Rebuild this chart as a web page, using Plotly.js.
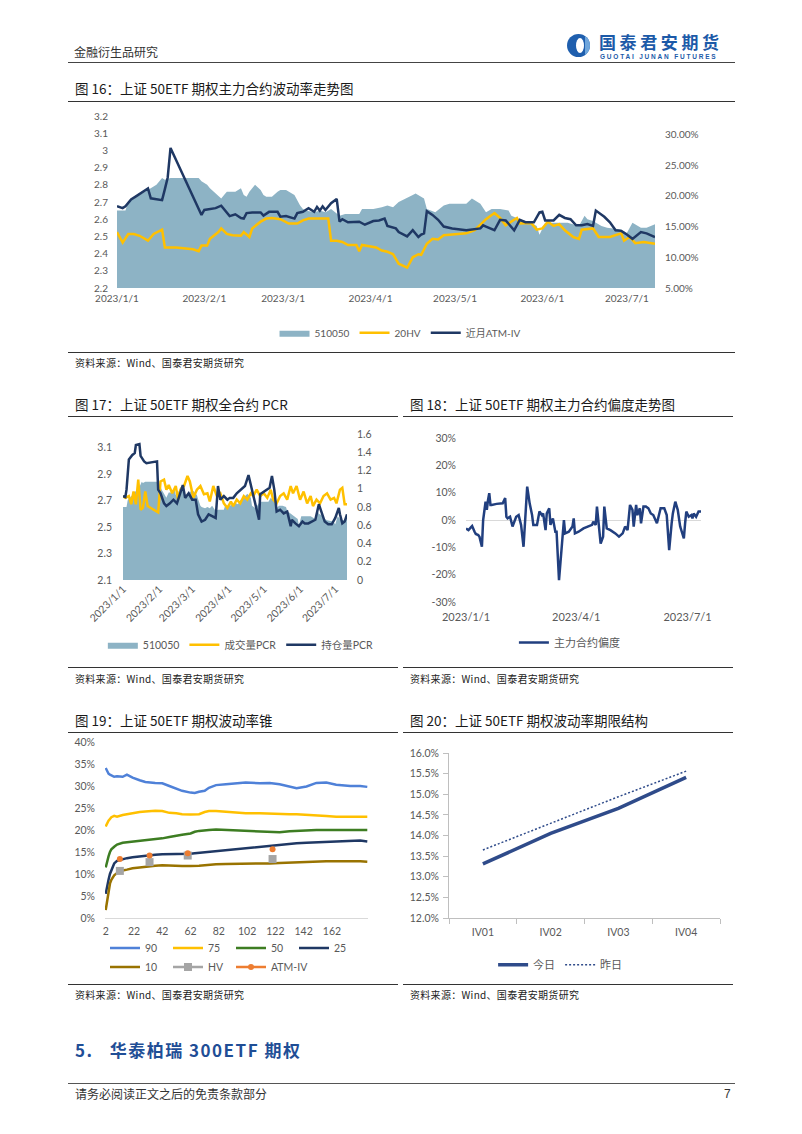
<!DOCTYPE html>
<html><head><meta charset="utf-8">
<script src="https://cdn.plot.ly/plotly-3.0.1.min.js"></script>
<style>
body{margin:0;background:#fff;}
#page{position:relative;width:802px;height:1134px;overflow:hidden;font-family:'Noto Sans CJK SC',sans-serif;color:#1a1a1a;background:#fff;}
.t{position:absolute;white-space:nowrap;line-height:1;}
.hl{position:absolute;height:0;border-top:1px solid #333;}
.c{position:absolute;}
.ttl{font-size:13.5px;letter-spacing:0;}
.src{font-size:10px;letter-spacing:0.3px;color:#222;}
</style></head>
<body><div id="page">
<div class="t" style="left:74px;top:46px;font-size:12px;color:#333;">金融衍生品研究</div>
<div style="position:absolute;left:567px;top:34px;width:23px;height:23px;border-radius:50%;background:#1f5fae;overflow:hidden;">
  <div style="position:absolute;left:9px;top:4px;width:8px;height:15px;border-radius:50%;background:#fff;"></div>
  <div style="position:absolute;left:18px;top:0;width:5px;height:23px;background:#6fa6dc;"></div>
</div>
<div class="t" style="left:599px;top:33px;height:17px;font-size:17px;line-height:17px;font-weight:bold;color:#1c5aa8;letter-spacing:3.6px;">国泰君安期货</div>
<div class="t" style="left:600px;top:54px;height:6px;font-size:6.5px;line-height:6px;font-weight:bold;color:#1c5aa8;letter-spacing:1.8px;font-family:'Liberation Sans',sans-serif;">GUOTAI JUNAN FUTURES</div>
<div class="hl" style="left:68px;width:667px;top:62px;border-top-color:#444;"></div>

<div class="t ttl" style="left:75px;top:82px;">图 16：上证 50ETF 期权主力合约波动率走势图</div>
<div class="hl" style="left:68px;width:667px;top:101px;"></div>
<div class="c" id="c16" style="left:68px;top:105px;width:667px;height:245px;"></div>
<div class="hl" style="left:68px;width:667px;top:352px;"></div>
<div class="t src" style="left:75px;top:358px;">资料来源：Wind、国泰君安期货研究</div>

<div class="t ttl" style="left:75px;top:398px;">图 17：上证 50ETF 期权全合约 PCR</div>
<div class="hl" style="left:68px;width:330px;top:416px;"></div>
<div class="t ttl" style="left:410px;top:398px;">图 18：上证 50ETF 期权主力合约偏度走势图</div>
<div class="hl" style="left:403px;width:330px;top:416px;"></div>
<div class="c" id="c17" style="left:68px;top:420px;width:330px;height:245px;"></div>
<div class="c" id="c18" style="left:403px;top:420px;width:330px;height:245px;"></div>
<div class="hl" style="left:68px;width:330px;top:667px;"></div>
<div class="t src" style="left:75px;top:674px;">资料来源：Wind、国泰君安期货研究</div>
<div class="hl" style="left:403px;width:330px;top:667px;"></div>
<div class="t src" style="left:410px;top:674px;">资料来源：Wind、国泰君安期货研究</div>

<div class="t ttl" style="left:75px;top:714px;">图 19：上证 50ETF 期权波动率锥</div>
<div class="hl" style="left:68px;width:330px;top:732px;"></div>
<div class="t ttl" style="left:410px;top:714px;">图 20：上证 50ETF 期权波动率期限结构</div>
<div class="hl" style="left:403px;width:330px;top:732px;"></div>
<div class="c" id="c19" style="left:68px;top:735px;width:330px;height:248px;"></div>
<div class="c" id="c20" style="left:403px;top:735px;width:330px;height:248px;"></div>
<div class="hl" style="left:68px;width:330px;top:984px;"></div>
<div class="t src" style="left:75px;top:990px;">资料来源：Wind、国泰君安期货研究</div>
<div class="hl" style="left:403px;width:330px;top:984px;"></div>
<div class="t src" style="left:410px;top:990px;">资料来源：Wind、国泰君安期货研究</div>

<div class="t" style="left:75px;top:1041px;font-size:17px;font-weight:bold;color:#1f4e96;letter-spacing:1.5px;">5.&nbsp;&nbsp; 华泰柏瑞 300ETF 期权</div>
<div class="hl" style="left:68px;width:667px;top:1083px;border-top-color:#555;"></div>
<div class="t" style="left:75px;top:1088px;font-size:12px;color:#333;">请务必阅读正文之后的免责条款部分</div>
<div class="t" style="left:724px;top:1088px;font-size:12px;color:#333;font-family:'Liberation Sans',sans-serif;">7</div>
</div>
<script>
// ---------- data ----------
const monthTickDates = ['2023-01-01','2023-02-01','2023-03-01','2023-04-01','2023-05-01','2023-06-01','2023-07-01'];
const monthTickText = ['2023/1/1','2023/2/1','2023/3/1','2023/4/1','2023/5/1','2023/6/1','2023/7/1'];
const quarterTickDates = ['2023-01-01','2023-04-01','2023-07-01'];
const quarterTickText = ['2023/1/1','2023/4/1','2023/7/1'];

// 510050 price (left axis)
const etfDates = ['2023-01-01','2023-01-04','2023-01-05','2023-01-08','2023-01-12','2023-01-15','2023-01-17','2023-01-18','2023-01-20','2023-01-30','2023-01-31','2023-02-02','2023-02-03','2023-02-05','2023-02-06','2023-02-07','2023-02-08','2023-02-09','2023-02-12','2023-02-14','2023-02-15','2023-02-16','2023-02-17','2023-02-18','2023-02-19','2023-02-21','2023-02-22','2023-02-23','2023-02-25','2023-02-27','2023-02-28','2023-03-02','2023-03-03','2023-03-05','2023-03-06','2023-03-07','2023-03-08','2023-03-09','2023-03-12','2023-03-14','2023-03-16','2023-03-18','2023-03-21','2023-03-23','2023-03-26','2023-03-28','2023-03-29','2023-04-02','2023-04-05','2023-04-07','2023-04-09','2023-04-11','2023-04-16','2023-04-17','2023-04-20','2023-04-21','2023-04-24','2023-04-27','2023-04-29','2023-05-05','2023-05-07','2023-05-10','2023-05-12','2023-05-14','2023-05-17','2023-05-20','2023-05-21','2023-05-24','2023-05-28','2023-05-30','2023-05-31','2023-06-02','2023-06-10','2023-06-14','2023-06-16','2023-06-17','2023-06-19','2023-06-22','2023-06-24','2023-06-29','2023-07-01','2023-07-03','2023-07-06','2023-07-08','2023-07-11'];
const etfVals = [2.65,2.65,2.70,2.73,2.77,2.80,2.84,2.83,2.84,2.84,2.82,2.80,2.78,2.75,2.74,2.72,2.74,2.76,2.76,2.78,2.74,2.73,2.76,2.78,2.80,2.77,2.74,2.73,2.73,2.76,2.77,2.77,2.76,2.74,2.71,2.68,2.66,2.65,2.64,2.65,2.64,2.66,2.62,2.63,2.63,2.63,2.66,2.66,2.67,2.68,2.67,2.70,2.74,2.75,2.72,2.66,2.64,2.68,2.69,2.69,2.72,2.69,2.64,2.66,2.66,2.65,2.62,2.60,2.58,2.56,2.51,2.58,2.58,2.56,2.62,2.60,2.59,2.56,2.55,2.54,2.52,2.58,2.55,2.55,2.57];

// 20HV (%)
const hvDates = ['2023-01-01','2023-01-03','2023-01-05','2023-01-07','2023-01-09','2023-01-11','2023-01-12','2023-01-14','2023-01-17','2023-01-18','2023-01-22','2023-01-28','2023-01-30','2023-01-31','2023-02-02','2023-02-03','2023-02-06','2023-02-07','2023-02-09','2023-02-11','2023-02-14','2023-02-15','2023-02-17','2023-02-18','2023-02-21','2023-02-23','2023-02-25','2023-02-28','2023-03-02','2023-03-03','2023-03-06','2023-03-08','2023-03-10','2023-03-13','2023-03-16','2023-03-17','2023-03-18','2023-03-20','2023-03-22','2023-03-24','2023-03-27','2023-03-28','2023-03-29','2023-04-01','2023-04-03','2023-04-05','2023-04-07','2023-04-09','2023-04-11','2023-04-14','2023-04-16','2023-04-18','2023-04-19','2023-04-21','2023-04-23','2023-04-25','2023-04-27','2023-04-30','2023-05-05','2023-05-08','2023-05-12','2023-05-15','2023-05-17','2023-05-19','2023-05-21','2023-05-23','2023-05-24','2023-05-27','2023-05-28','2023-05-30','2023-06-01','2023-06-03','2023-06-05','2023-06-07','2023-06-09','2023-06-12','2023-06-14','2023-06-15','2023-06-19','2023-06-21','2023-06-25','2023-06-29','2023-06-30','2023-07-02','2023-07-04','2023-07-07','2023-07-11'];
const hvVals = [14.1,12.4,13.8,13.8,13.5,13.0,12.7,13.8,14.5,11.6,11.6,11.3,11.0,11.9,11.9,13.0,14.1,14.7,13.8,13.6,13.5,14.1,13.3,14.7,15.8,16.3,16.4,16.2,15.8,15.5,15.5,16.0,16.3,16.3,16.2,16.3,12.7,12.7,12.5,12.0,12.0,11.0,12.0,11.7,11.6,11.1,10.9,10.5,8.95,8.3,10.0,10.5,10.4,12.2,13.0,12.9,13.6,13.7,13.9,14.4,16.2,17.2,16.4,15.2,15.8,16.4,15.5,15.6,15.6,14.5,14.7,15.8,15.1,15.4,14.4,13.3,13.0,14.5,14.7,13.3,13.3,13.9,12.7,13.3,12.3,12.5,12.2];

// near-month ATM-IV (%)
const ivDates = ['2023-01-01','2023-01-03','2023-01-04','2023-01-06','2023-01-08','2023-01-11','2023-01-12','2023-01-13','2023-01-15','2023-01-17','2023-01-18','2023-01-19','2023-01-20','2023-01-31','2023-02-01','2023-02-03','2023-02-05','2023-02-07','2023-02-10','2023-02-12','2023-02-14','2023-02-15','2023-02-16','2023-02-18','2023-02-21','2023-02-22','2023-02-24','2023-02-27','2023-02-28','2023-03-02','2023-03-05','2023-03-06','2023-03-08','2023-03-10','2023-03-12','2023-03-13','2023-03-14','2023-03-15','2023-03-16','2023-03-18','2023-03-20','2023-03-21','2023-03-22','2023-03-24','2023-03-26','2023-03-28','2023-03-30','2023-04-02','2023-04-04','2023-04-06','2023-04-07','2023-04-10','2023-04-11','2023-04-14','2023-04-16','2023-04-18','2023-04-19','2023-04-20','2023-04-21','2023-04-23','2023-04-25','2023-04-27','2023-04-30','2023-05-05','2023-05-10','2023-05-11','2023-05-12','2023-05-15','2023-05-17','2023-05-19','2023-05-22','2023-05-24','2023-05-26','2023-05-29','2023-05-31','2023-06-01','2023-06-02','2023-06-05','2023-06-07','2023-06-09','2023-06-11','2023-06-13','2023-06-15','2023-06-17','2023-06-19','2023-06-20','2023-06-23','2023-06-25','2023-06-27','2023-06-29','2023-07-01','2023-07-03','2023-07-06','2023-07-08','2023-07-11'];
const ivVals = [18.3,18.0,18.3,19.4,20.0,20.8,21.2,19.6,19.4,19.3,21.1,23.0,27.8,16.9,17.7,17.8,18.0,18.4,16.7,17.0,16.4,16.3,17.2,17.3,17.3,16.8,17.4,17.4,16.6,16.7,16.3,17.2,17.4,18.0,17.4,18.2,17.6,18.3,17.7,18.8,19.5,15.8,16.2,15.7,15.8,15.8,15.3,15.9,16.0,16.3,15.1,14.7,14.1,13.4,14.4,13.3,13.7,13.9,17.5,16.9,16.1,15.0,14.7,14.4,14.7,15.2,15.0,14.4,16.1,16.0,14.4,16.1,15.7,15.7,17.3,17.4,16.0,16.0,16.9,16.4,16.2,15.2,15.2,15.4,15.1,17.6,16.6,15.7,14.4,14.3,13.7,13.0,14.1,13.9,13.3];

// Fig 17: volume PCR & open-interest PCR
const pcrVolDates = ['2023-01-01','2023-01-03','2023-01-06','2023-01-08','2023-01-10','2023-01-12','2023-01-14','2023-01-16','2023-01-18','2023-01-20','2023-01-22','2023-01-31','2023-02-02','2023-02-05','2023-02-07','2023-02-09','2023-02-12','2023-02-15','2023-02-17','2023-02-19','2023-02-22','2023-02-25','2023-02-27','2023-03-02','2023-03-05','2023-03-08','2023-03-11','2023-03-14','2023-03-16','2023-03-19','2023-03-22','2023-03-25','2023-03-28','2023-03-31','2023-04-03','2023-04-05','2023-04-08','2023-04-11','2023-04-14','2023-04-17','2023-04-20','2023-04-22','2023-04-25','2023-04-28','2023-05-01','2023-05-04','2023-05-07','2023-05-09','2023-05-12','2023-05-15','2023-05-18','2023-05-21','2023-05-24','2023-05-26','2023-05-29','2023-06-01','2023-06-04','2023-06-07','2023-06-10','2023-06-12','2023-06-15','2023-06-18','2023-06-21','2023-06-24','2023-06-27','2023-06-30','2023-07-02','2023-07-05','2023-07-07','2023-07-09','2023-07-11'];
const pcrVolVals = [0.92,0.90,0.92,0.83,0.97,0.83,1.10,0.77,0.79,0.97,0.81,0.74,1.08,1.10,0.99,1.04,0.95,1.03,0.88,0.99,1.03,1.14,1.08,0.90,0.99,1.03,0.94,0.95,0.86,1.03,0.92,0.95,0.84,0.79,0.86,0.81,0.88,0.84,0.92,0.88,0.95,0.92,0.99,0.92,0.95,0.90,0.99,0.88,0.84,0.92,0.95,0.88,1.03,0.95,1.03,0.88,0.97,0.84,0.92,0.81,0.88,0.84,0.92,0.95,0.88,0.90,0.84,0.99,1.01,0.83,0.83];
const pcrOiDates = ['2023-01-01','2023-01-03','2023-01-04','2023-01-06','2023-01-09','2023-01-11','2023-01-12','2023-01-15','2023-01-16','2023-01-19','2023-01-21','2023-01-30','2023-01-31','2023-02-02','2023-02-05','2023-02-07','2023-02-10','2023-02-13','2023-02-16','2023-02-19','2023-02-21','2023-02-23','2023-02-26','2023-03-01','2023-03-04','2023-03-06','2023-03-09','2023-03-12','2023-03-15','2023-03-18','2023-03-21','2023-03-23','2023-03-25','2023-03-28','2023-03-31','2023-04-02','2023-04-05','2023-04-08','2023-04-12','2023-04-15','2023-04-18','2023-04-21','2023-04-24','2023-04-27','2023-04-28','2023-05-01','2023-05-04','2023-05-06','2023-05-08','2023-05-10','2023-05-12','2023-05-15','2023-05-18','2023-05-21','2023-05-24','2023-05-25','2023-05-28','2023-05-31','2023-06-03','2023-06-05','2023-06-08','2023-06-11','2023-06-14','2023-06-17','2023-06-20','2023-06-22','2023-06-25','2023-06-28','2023-07-01','2023-07-04','2023-07-05','2023-07-07','2023-07-09','2023-07-11'];
const pcrOiVals = [0.92,0.91,0.99,1.32,1.37,1.39,1.48,1.49,1.36,1.30,1.28,1.30,0.99,0.95,0.84,0.81,0.84,0.88,0.84,0.95,1.04,0.90,0.95,0.88,0.88,0.72,0.64,0.66,0.72,0.70,0.68,1.03,0.88,0.92,0.88,0.90,0.90,0.95,0.99,1.03,1.15,0.99,0.84,0.66,0.94,0.97,0.99,1.01,1.14,0.99,0.75,0.77,0.73,0.75,0.59,0.66,0.62,0.59,0.64,0.62,0.62,0.64,0.66,0.83,0.72,0.64,0.61,0.61,0.68,0.79,0.72,0.62,0.64,0.72];

// Fig 18: main-contract skew (%)
const skewDates = ['2023-01-01','2023-01-03','2023-01-05','2023-01-06','2023-01-08','2023-01-09','2023-01-11','2023-01-12','2023-01-14','2023-01-15','2023-01-17','2023-01-18','2023-01-19','2023-01-20','2023-01-21','2023-01-22','2023-01-26','2023-01-31','2023-02-02','2023-02-03','2023-02-04','2023-02-06','2023-02-08','2023-02-10','2023-02-11','2023-02-13','2023-02-15','2023-02-17','2023-02-19','2023-02-20','2023-02-22','2023-02-24','2023-02-25','2023-02-28','2023-03-02','2023-03-04','2023-03-05','2023-03-07','2023-03-08','2023-03-10','2023-03-11','2023-03-13','2023-03-15','2023-03-16','2023-03-18','2023-03-20','2023-03-22','2023-03-23','2023-03-26','2023-03-29','2023-03-30','2023-03-31','2023-04-03','2023-04-07','2023-04-11','2023-04-14','2023-04-15','2023-04-17','2023-04-18','2023-04-20','2023-04-21','2023-04-23','2023-04-24','2023-04-26','2023-04-29','2023-05-03','2023-05-06','2023-05-09','2023-05-11','2023-05-13','2023-05-14','2023-05-15','2023-05-17','2023-05-18','2023-05-20','2023-05-21','2023-05-23','2023-05-24','2023-05-26','2023-05-28','2023-05-30','2023-06-01','2023-06-03','2023-06-05','2023-06-06','2023-06-09','2023-06-12','2023-06-14','2023-06-16','2023-06-18','2023-06-19','2023-06-21','2023-06-23','2023-06-25','2023-06-28','2023-06-29','2023-06-30','2023-07-02','2023-07-04','2023-07-05','2023-07-06','2023-07-08','2023-07-09','2023-07-10','2023-07-12'];
const skewVals = [-3.1,-3.7,-2.7,-2.2,-4.3,-5.1,-5.5,-6.1,-9.8,0,6.7,3.7,7.3,9.8,5.5,5.5,5.9,6.1,8.0,1.2,0.6,1.2,-2.4,0.6,1.2,1.8,-1.8,-9.8,3.7,12.2,6.1,1.8,-1.8,-1.8,3.1,1.8,2.4,-3.7,2.4,4.3,-1.8,0.6,-4.3,-4.3,-22.0,-9.8,0,-4.9,-4.3,-2.4,0.6,-4.9,-4.3,-3.1,-2.4,-1.8,-0.6,-1.8,4.9,-4.3,-8.6,-6.1,4.9,-3.1,-3.7,-4.9,-6.1,-4.9,-2.4,-3.7,1.2,5.5,3.7,-2.4,5.5,1.8,4.3,-1.2,4.9,4.9,4.3,2.4,1.8,0,-1.2,4.3,4.3,1.8,-11.0,-1.2,2.4,6.7,3.7,-2.4,-6.7,-1.2,3.1,1.2,1.8,0.6,2.4,1.2,2.2,3.1,3.1];

// Fig 19: volatility cone (%), window in days
const coneWin = [2,3,4,5,6,8,10,14,17,21,26,30,37,42,47,52,56,62,65,68,72,75,80,87,94,101,111,118,125,132,137,144,151,158,165,175,182,187];
const cone90 = [34.1,33.5,32.8,32.6,32.4,32.1,32.2,32.1,32.6,31.9,31.3,30.9,30.7,30.6,30.0,29.4,28.9,28.5,28.4,28.7,28.9,29.6,30.2,30.4,30.6,30.8,30.6,30.7,30.4,29.8,29.5,29.9,30.7,30.8,30.3,30.0,30.0,29.8];
const cone75 = [20.8,21.6,22.1,22.5,22.9,23.2,23.0,23.4,23.6,23.9,24.1,24.2,24.4,24.3,23.9,23.8,23.6,23.5,23.5,23.6,24.1,24.3,24.3,24.1,23.9,23.8,23.8,23.7,23.7,23.6,23.6,23.5,23.4,23.2,23.0,23.0,22.9,23.0];
const cone50 = [11.5,13.0,14.0,15.0,15.6,16.2,16.7,17.1,17.2,17.4,17.5,17.7,18.0,18.1,18.4,18.6,18.9,19.2,19.6,19.8,20.0,20.0,20.1,20.0,20.0,19.9,19.8,19.6,19.5,19.7,19.8,20.0,20.0,20.0,20.0,20.0,20.0,20.0];
const cone25 = [5.5,7.5,8.7,10.0,10.9,12.4,13.0,13.4,13.6,13.8,14.0,14.2,14.4,14.5,14.5,14.6,14.6,14.6,14.7,14.8,14.9,15.0,15.1,15.3,15.5,15.8,16.2,16.3,16.6,16.9,17.0,17.1,17.2,17.3,17.4,17.5,17.6,17.4];
const cone10 = [1.8,4.0,6.4,7.8,8.7,9.7,10.2,10.8,11.0,11.3,11.5,11.7,11.9,12.0,11.9,11.9,11.8,11.8,11.8,11.9,12.0,12.1,12.2,12.3,12.3,12.4,12.4,12.4,12.5,12.6,12.7,12.8,12.8,12.9,12.9,13.0,12.9,12.8];
const pointWin = [12,22,33,46,60,90,120];
const hvPoints = [10.7,null,12.7,null,14.2,null,13.4];
const atmPoints = [13.4,null,14.2,null,14.7,null,15.6];
const coneTicks = [2,22,42,62,82,102,122,142,162];

// Fig 20: term structure (%)
const termCats = ['IV01','IV02','IV03','IV04'];
const termToday = [13.31,14.05,14.66,15.41];
const termYest = [13.65,14.30,14.94,15.56];

// ---------- helpers ----------
const FAM = "Lato, 'Noto Sans CJK SC', sans-serif";
const GREY = '#595959';
function pctText(arr, dec){ return arr.map(v => v.toFixed(dec) + '%'); }
function numText(arr, dec){ return arr.map(v => v.toFixed(dec)); }
const cfg = {staticPlot:true, displayModeBar:false};
function base(w,h,m,fs){
  m.autoexpand = false;
  return {width:w,height:h,margin:m,paper_bgcolor:'rgba(0,0,0,0)',plot_bgcolor:'rgba(0,0,0,0)',
    font:{family:FAM,size:fs,color:GREY},showlegend:true};
}
const NAVY = '#1F3864', YEL = '#FFC000', AREA = '#8DB3C5';

// ---------- Fig 16 ----------
const y16 = [2.2,2.3,2.4,2.5,2.6,2.7,2.8,2.9,3.0,3.1,3.2];
const y16r = [5,10,15,20,25,30];
Plotly.newPlot('c16', [
  {x:etfDates,y:etfVals,type:'scatter',mode:'lines',fill:'tozeroy',fillcolor:AREA,line:{width:0,color:AREA},name:'510050',yaxis:'y'},
  {x:hvDates,y:hvVals,type:'scatter',mode:'lines',line:{color:YEL,width:2.5},name:'20HV',yaxis:'y2'},
  {x:ivDates,y:ivVals,type:'scatter',mode:'lines',line:{color:NAVY,width:2.5},name:'近月ATM-IV',yaxis:'y2'}
], Object.assign(base(667,245,{l:49,r:80,t:11,b:62},10), {
  xaxis:{type:'date',range:['2023-01-01','2023-07-11'],tickmode:'array',tickvals:monthTickDates,ticktext:monthTickText,showgrid:false,zeroline:false,showline:false,ticks:'',ticklabelstandoff:3},
  yaxis:{range:[2.2,3.2],tickmode:'array',tickvals:y16,ticktext:['2.2','2.3','2.4','2.5','2.6','2.7','2.8','2.9','3','3.1','3.2'],showgrid:false,zeroline:false,ticklabelstandoff:8},
  yaxis2:{overlaying:'y',side:'right',range:[5,33],tickmode:'array',tickvals:y16r,ticktext:pctText(y16r,2),showgrid:false,zeroline:false,ticklabelstandoff:9},
  legend:{orientation:'h',x:0.527,xanchor:'center',y:-0.26,yanchor:'middle',font:{size:10,color:GREY}}
}), cfg);

// ---------- Fig 17 ----------
const y17 = [2.1,2.3,2.5,2.7,2.9,3.1];
const y17r = [0,0.2,0.4,0.6,0.8,1,1.2,1.4,1.6];
Plotly.newPlot('c17', [
  {x:etfDates,y:etfVals,type:'scatter',mode:'lines',fill:'tozeroy',fillcolor:AREA,line:{width:0,color:AREA},name:'510050',yaxis:'y'},
  {x:pcrVolDates,y:pcrVolVals,type:'scatter',mode:'lines',line:{color:YEL,width:2.5},name:'成交量PCR',yaxis:'y2'},
  {x:pcrOiDates,y:pcrOiVals,type:'scatter',mode:'lines',line:{color:NAVY,width:2.5},name:'持仓量PCR',yaxis:'y2'}
], Object.assign(base(330,245,{l:55,r:51,t:14,b:85},10.5), {
  xaxis:{type:'date',range:['2023-01-01','2023-07-11'],tickmode:'array',tickvals:monthTickDates,ticktext:monthTickText,tickangle:-45,showgrid:false,zeroline:false,showline:false,ticks:''},
  yaxis:{range:[2.1,3.2],tickmode:'array',tickvals:y17,ticktext:numText(y17,1),showgrid:false,zeroline:false,ticklabelstandoff:10},
  yaxis2:{overlaying:'y',side:'right',range:[0,1.6],tickmode:'array',tickvals:y17r,ticktext:['0','0.2','0.4','0.6','0.8','1','1.2','1.4','1.6'],showgrid:false,zeroline:false,ticklabelstandoff:9},
  legend:{orientation:'h',x:-0.09,xanchor:'left',y:-0.443,yanchor:'middle',font:{size:10.5,color:GREY}}
}), cfg);

// ---------- Fig 18 ----------
const y18 = [-30,-20,-10,0,10,20,30];
Plotly.newPlot('c18', [
  {x:skewDates,y:skewVals,type:'scatter',mode:'lines',line:{color:'#213F7F',width:2.5},name:'主力合约偏度'}
], Object.assign(base(330,245,{l:63,r:32,t:18,b:63},10.5), {
  xaxis:{type:'date',range:['2023-01-01','2023-07-12'],tickmode:'array',tickvals:quarterTickDates,ticktext:quarterTickText,showgrid:false,zeroline:false,showline:false,ticks:'',tickfont:{size:11},ticklabelstandoff:7},
  yaxis:{range:[-30,30],tickmode:'array',tickvals:y18,ticktext:y18.map(v=>v+'%'),showgrid:false,zeroline:true,zerolinecolor:'#D9D9D9',zerolinewidth:1,ticklabelstandoff:9},
  legend:{orientation:'h',x:0.44,xanchor:'center',y:-0.247,yanchor:'middle',font:{size:11,color:GREY}}
}), cfg);

// ---------- Fig 19 ----------
const y19 = [0,5,10,15,20,25,30,35,40];
Plotly.newPlot('c19', [
  {x:coneWin,y:cone90,type:'scatter',mode:'lines',line:{color:'#4F81D8',width:2.5},name:'90'},
  {x:coneWin,y:cone75,type:'scatter',mode:'lines',line:{color:YEL,width:2.5},name:'75'},
  {x:coneWin,y:cone50,type:'scatter',mode:'lines',line:{color:'#3D7D22',width:2.5},name:'50'},
  {x:coneWin,y:cone25,type:'scatter',mode:'lines',line:{color:NAVY,width:2.5},name:'25'},
  {x:coneWin,y:cone10,type:'scatter',mode:'lines',line:{color:'#997300',width:2.5},name:'10'},
  {x:pointWin,y:hvPoints,type:'scatter',mode:'lines+markers',line:{color:'#A5A5A5',width:2.5},marker:{symbol:'square',size:8,color:'#A5A5A5'},name:'HV'},
  {x:pointWin,y:atmPoints,type:'scatter',mode:'lines+markers',line:{color:'#ED7D31',width:2.5},marker:{symbol:'circle',size:6,color:'#ED7D31'},name:'ATM-IV'}
], Object.assign(base(330,248,{l:37,r:30,t:7,b:65},10.5), {
  xaxis:{range:[1.5,187.5],tickmode:'array',tickvals:coneTicks,ticktext:coneTicks.map(String),showgrid:false,zeroline:false,showline:true,linecolor:'#D9D9D9',ticks:'',ticklabelstandoff:3},
  yaxis:{range:[0,40],tickmode:'array',tickvals:y19,ticktext:y19.map(v=>v+'%'),showgrid:false,zeroline:false,ticklabelstandoff:9},
  legend:{orientation:'h',x:0,xanchor:'left',y:-0.088,yanchor:'top',entrywidth:18,entrywidthmode:'pixels',tracegroupgap:0,font:{size:10.5,color:GREY}}
}), cfg);

// ---------- Fig 20 ----------
const y20 = [12,12.5,13,13.5,14,14.5,15,15.5,16];
Plotly.newPlot('c20', [
  {x:termCats,y:termToday,type:'scatter',mode:'lines',line:{color:'#2F4B8A',width:3.5},name:'今日'},
  {x:termCats,y:termYest,type:'scatter',mode:'lines',line:{color:'#2F4B8A',width:1.5,dash:'2px,2px'},name:'昨日'}
], Object.assign(base(330,248,{l:46,r:13,t:18,b:65},10.5), {
  xaxis:{type:'category',range:[-0.5,3.5],showgrid:false,zeroline:false,showline:true,linecolor:'#BFBFBF',ticks:'outside',tickson:'boundaries',ticklen:5,tickcolor:'#BFBFBF',ticklabelstandoff:4},
  yaxis:{range:[12,16],tickmode:'array',tickvals:y20,ticktext:pctText(y20,1),showgrid:false,zeroline:false,showline:true,linecolor:'#BFBFBF',ticks:'outside',ticklen:5,tickcolor:'#BFBFBF',ticklabelstandoff:2},
  legend:{orientation:'h',x:0.41,xanchor:'center',y:-0.283,yanchor:'middle',font:{size:11,color:GREY}}
}), cfg);
</script>
</body></html>
